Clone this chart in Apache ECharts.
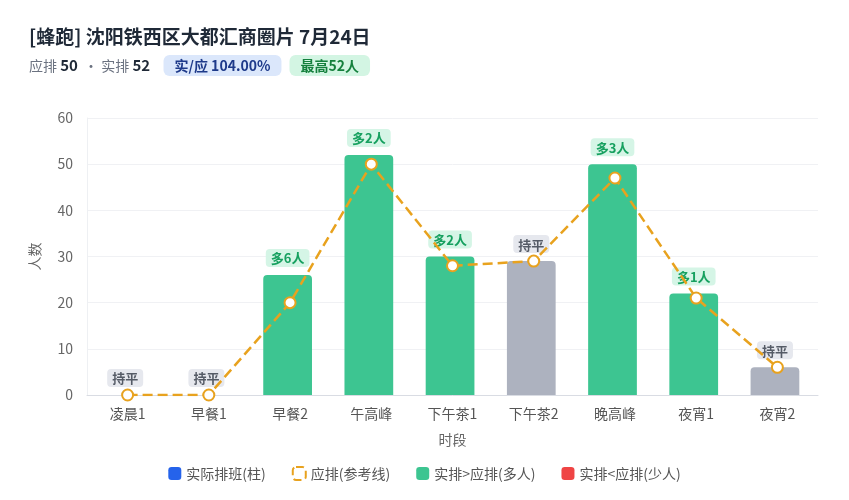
<!DOCTYPE html>
<html lang="zh">
  <head>
    <meta charset="UTF-8" />
    <title>蜂跑 排班</title>
    <script src="https://cdn.jsdelivr.net/npm/echarts@6/dist/echarts.min.js"></script>
    <style>
      html, body { margin: 0; padding: 0; background: #fff; }
      #chart { width: 849px; height: 500px; }
    </style>
  </head>
  <body>
    <div id="chart"></div>
  </body>
</html>
<script>
  // 数据
  const slots = ["凌晨1", "早餐1", "早餐2", "午高峰", "下午茶1", "下午茶2", "晚高峰", "夜宵1", "夜宵2"];
  const actual = [0, 0, 26, 52, 30, 29, 50, 22, 6]; // 实排
  const planned = [0, 0, 20, 50, 28, 29, 47, 21, 6]; // 应排
  const yTicks = [0, 10, 20, 30, 40, 50, 60];

  const GREEN = "#3dc591";
  const GRAY = "#adb2bf";
  const RED = "#ef4444";
  const BLUE = "#2563eb";
  const ORANGE = "#e8a21e";
  const FONT = "Noto Sans CJK SC";

  // 峰值
  const peakPlan = Math.max(...planned);
  const peakAct = Math.max(...actual);

  const barData = actual.map((v, i) => {
    const d = v - planned[i];
    let color = GRAY, label = "持平", rich = "flat";
    if (d > 0) { color = GREEN; label = "多" + d + "人"; rich = "more"; }
    if (d < 0) { color = RED; label = "少" + (-d) + "人"; rich = "less"; }
    return {
      value: v,
      itemStyle: { color: color },
      label: { formatter: "{" + rich + "|" + label + "}" }
    };
  });

  const chart = echarts.init(document.getElementById("chart"));
  const option = {
    textStyle: { fontFamily: FONT },
    title: {
      left: 24,
      top: 22,
      text: "[蜂跑] 沈阳铁西区大都汇商圈片 7月24日",
      textStyle: { fontSize: 19, fontWeight: "bold", color: "#1f2937", fontFamily: FONT },
      subtext:
        "{g|应排 }{b|" + peakPlan + "}{g|  · 实排 }{b|" + peakAct + "}     " +
        "{blue|实/应 " + ((peakAct / peakPlan) * 100).toFixed(2) + "%}   " +
        "{green|最高" + peakAct + "人}",
      itemGap: 9,
      subtextStyle: {
        fontFamily: FONT,
        rich: {
          g: { fontSize: 14, color: "#6b7280", fontFamily: FONT },
          b: { fontSize: 15, color: "#1f2937", fontWeight: "bold", fontFamily: FONT },
          blue: {
            fontSize: 14, color: "#1e3a8a", fontWeight: "bold", fontFamily: FONT,
            backgroundColor: "#dbe7fb", borderRadius: 6, padding: [4, 11, 3, 11]
          },
          green: {
            fontSize: 14, color: "#15803d", fontWeight: "bold", fontFamily: FONT,
            backgroundColor: "#d3f5e3", borderRadius: 6, padding: [4, 11, 3, 11]
          }
        }
      }
    },
    legend: {
      bottom: 14,
      left: "center",
      itemWidth: 13,
      itemHeight: 13,
      itemGap: 26,
      textStyle: { fontSize: 14, color: "#555", fontFamily: FONT },
      data: [
        { name: "实际排班(柱)", icon: "roundRect", itemStyle: { color: BLUE } },
        {
          name: "应排(参考线)", icon: "roundRect",
          itemStyle: { color: "#fff", borderColor: ORANGE, borderWidth: 2, borderType: "dashed" }
        },
        { name: "实排>应排(多人)", icon: "roundRect", itemStyle: { color: GREEN } },
        { name: "实排<应排(少人)", icon: "roundRect", itemStyle: { color: RED } }
      ]
    },
    grid: { left: 87, right: 31, top: 118, bottom: 105 },
    xAxis: {
      type: "category",
      data: slots,
      name: "时段",
      nameLocation: "middle",
      nameGap: 38,
      nameTextStyle: { fontSize: 14, color: "#666" },
      axisLine: { lineStyle: { color: "#d9dce3" } },
      axisTick: { show: false },
      axisLabel: { fontSize: 14, color: "#555", margin: 12 }
    },
    yAxis: {
      type: "value",
      min: yTicks[0],
      max: yTicks[yTicks.length - 1],
      interval: 10,
      name: "人数",
      nameLocation: "middle",
      nameGap: 45,
      nameTextStyle: { fontSize: 14, color: "#666" },
      axisLine: { show: true, lineStyle: { color: "#eef0f3" } },
      axisLabel: { fontSize: 14, color: "#666", margin: 14 },
      splitLine: { lineStyle: { color: "#f0f1f4" } }
    },
    series: [
      {
        name: "实际排班(柱)",
        type: "bar",
        data: barData,
        barWidth: "60%",
        itemStyle: { borderRadius: [4, 4, 0, 0], color: BLUE },
        label: {
          show: true,
          position: "top",
          distance: 8,
          rich: {
            more: {
              fontSize: 13, fontWeight: "bold", color: "#16a05f", fontFamily: FONT,
              backgroundColor: "#d5f5e6", borderRadius: 4, padding: [3, 5, 2, 5]
            },
            less: {
              fontSize: 13, fontWeight: "bold", color: "#dc2626", fontFamily: FONT,
              backgroundColor: "#fde2e2", borderRadius: 4, padding: [3, 5, 2, 5]
            },
            flat: {
              fontSize: 13, fontWeight: "bold", color: "#555b66", fontFamily: FONT,
              backgroundColor: "#e6e8ee", borderRadius: 4, padding: [3, 5, 2, 5]
            }
          }
        },
        z: 2
      },
      {
        name: "应排(参考线)",
        type: "line",
        data: planned,
        symbol: "emptyCircle",
        symbolSize: 11,
        lineStyle: { color: ORANGE, width: 2.5, type: "dashed" },
        itemStyle: { color: ORANGE, borderWidth: 3 },
        z: 3
      },
      { name: "实排>应排(多人)", type: "bar", data: [], itemStyle: { color: GREEN } },
      { name: "实排<应排(少人)", type: "bar", data: [], itemStyle: { color: RED } }
    ]
  };
  chart.setOption(option);
</script>
